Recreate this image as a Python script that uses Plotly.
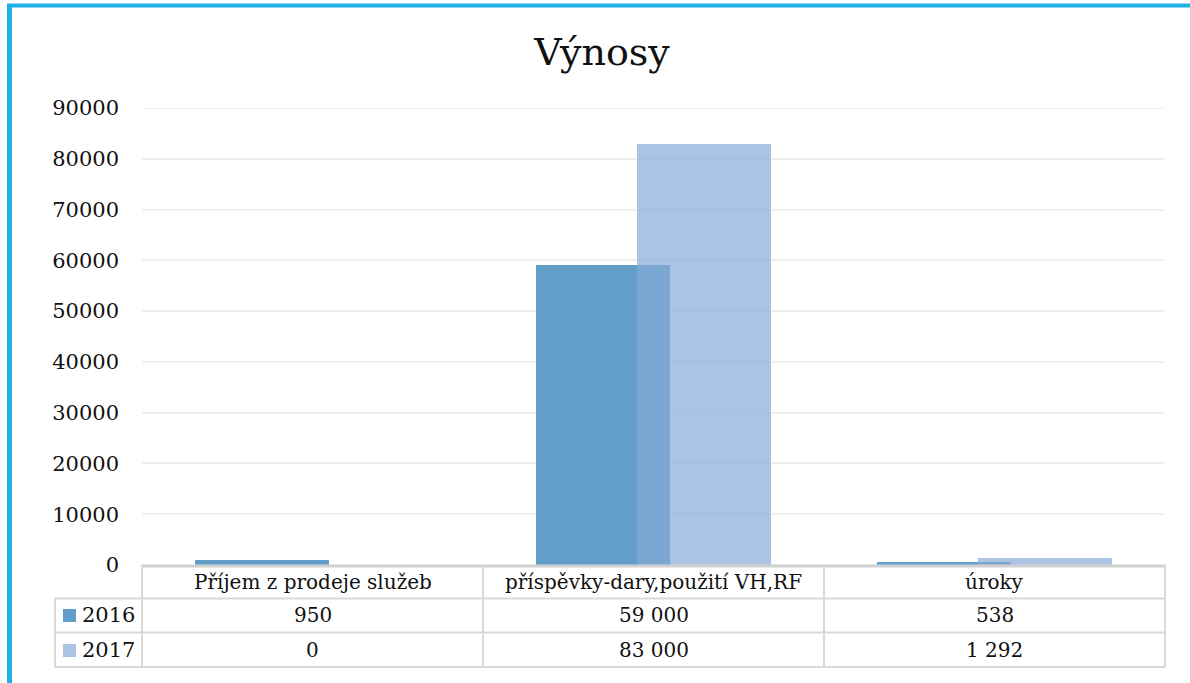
import plotly.graph_objects as go

categories = ["Příjem z prodeje služeb", "příspěvky-dary,použití VH,RF", "úroky"]
series_names = ["2016", "2017"]
values_2016 = [950, 59000, 538]
values_2017 = [0, 83000, 1292]
table_2016 = ["950", "59 000", "538"]
table_2017 = ["0", "83 000", "1 292"]
y_ticks = [0, 10000, 20000, 30000, 40000, 50000, 60000, 70000, 80000, 90000]

W, H = 1190, 683
L, R, T, B = 142, 1165, 108, 565
PW, PH = R - L, B - T
CW = PW / 3.0

FONT = "DejaVu Serif"
C16 = "rgb(98,158,200)"
C17 = "rgba(135,171,215,0.7)"
GRID = "#f0f0f0"
BORDER = "#d9d9d9"


def xp(px):
    return (px - L) / PW


def yp(py):
    return (B - py) / PH


bar_w = 134 / CW
fig = go.Figure()
fig.add_trace(go.Bar(x=[0, 1, 2], y=values_2016, name=series_names[0],
                     marker=dict(color=C16, line=dict(width=0)),
                     width=bar_w, offset=-117.5 / CW))
fig.add_trace(go.Bar(x=[0, 1, 2], y=values_2017, name=series_names[1],
                     marker=dict(color=C17, line=dict(width=0)),
                     width=bar_w, offset=-16.5 / CW))

shapes = []
ann = []
# top gridline (at range end)
shapes.append(dict(type="line", xref="paper", yref="y", x0=0, x1=1, y0=y_ticks[-1], y1=y_ticks[-1],
                   line=dict(color=GRID, width=2), layer="below"))
# blue frame
shapes.append(dict(type="line", xref="paper", yref="paper", x0=xp(9.5), x1=xp(9.5), y0=yp(4), y1=yp(690),
                   line=dict(color="#1eb1e6", width=5)))
shapes.append(dict(type="line", xref="paper", yref="paper", x0=xp(7), x1=xp(1200), y0=yp(5.5), y1=yp(5.5),
                   line=dict(color="#1eb1e6", width=4)))

# table grid
row_lines = [598.5, 632.5, 667]
for ry in row_lines:
    shapes.append(dict(type="line", xref="paper", yref="paper", x0=xp(55), x1=xp(R), y0=yp(ry), y1=yp(ry),
                       line=dict(color=BORDER, width=2)))
shapes.append(dict(type="line", xref="paper", yref="paper", x0=xp(L), x1=xp(R), y0=yp(B + 1), y1=yp(B + 1),
                   line=dict(color="#d0d0d0", width=3)))
shapes.append(dict(type="line", xref="paper", yref="paper", x0=xp(55), x1=xp(55), y0=yp(598), y1=yp(667),
                   line=dict(color=BORDER, width=2)))
for i in range(4):
    px = L + CW * i
    shapes.append(dict(type="line", xref="paper", yref="paper", x0=xp(px), x1=xp(px), y0=yp(B), y1=yp(667),
                       line=dict(color=BORDER, width=2)))

row_y = [582, 615, 650]
tf = dict(family=FONT, size=20, color="#111")
for i, cat in enumerate(categories):
    for txt, ry in [(cat, row_y[0]), (table_2016[i], row_y[1]), (table_2017[i], row_y[2])]:
        ann.append(dict(x=i, y=yp(ry), xref="x", yref="paper", text=txt, showarrow=False,
                        xanchor="center", yanchor="middle", font=tf))

for name, col, ry in [(series_names[0], C16, row_y[1]), (series_names[1], "rgb(171,196,227)", row_y[2])]:
    shapes.append(dict(type="rect", xref="paper", yref="paper", x0=xp(63), x1=xp(76),
                       y0=yp(ry + 7), y1=yp(ry - 6), fillcolor=col, line=dict(width=0)))
    ann.append(dict(x=xp(80), y=yp(ry), xref="paper", yref="paper", text=name, showarrow=False,
                    xanchor="left", yanchor="middle", font=dict(family=FONT, size=21, color="#111")))

fig.update_layout(
    width=W, height=H,
    margin=dict(l=L, r=W - R, t=T, b=H - B, pad=0),
    paper_bgcolor="white", plot_bgcolor="white",
    barmode="overlay", bargap=0, showlegend=False,
    title=dict(text="Výnosy", xref="container", yref="container", x=602 / W, y=1 - 52 / H,
               xanchor="center", yanchor="middle", font=dict(family=FONT, size=38, color="#111")),
    xaxis=dict(range=[-0.5, 2.5], showticklabels=False, showgrid=False, zeroline=False,
               showline=False, fixedrange=True),
    yaxis=dict(range=[0, 90000], tickvals=y_ticks, ticktext=[str(v) for v in y_ticks],
               showgrid=True, gridcolor=GRID, gridwidth=2, zeroline=False, showline=False,
               ticks="", ticklabelstandoff=22,
               tickfont=dict(family=FONT, size=21, color="#111")),
    shapes=shapes, annotations=ann,
)
fig.write_html("out.html", config={"displayModeBar": False},
               post_script="document.body.style.margin='0';document.body.style.overflow='hidden';")
